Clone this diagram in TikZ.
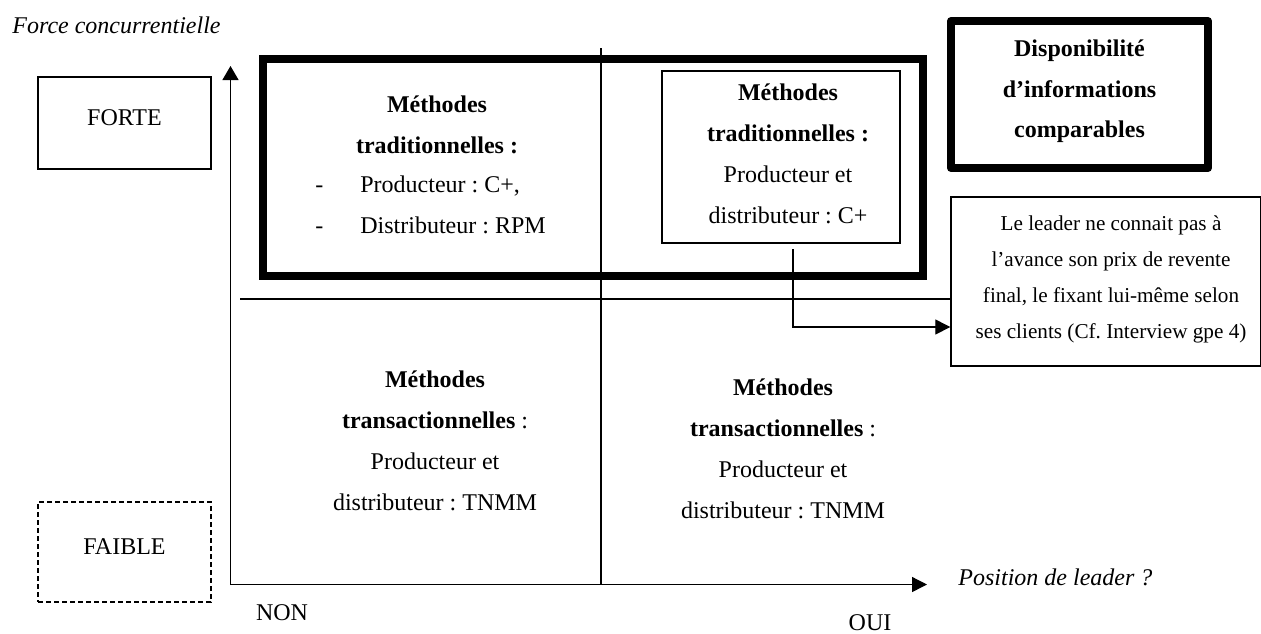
\documentclass[tikz,border=0pt]{standalone}
\usepackage{fontspec}
\setmainfont{Liberation Serif}
\usetikzlibrary{arrows.meta}
\frenchspacing
\begin{document}
\begin{tikzpicture}[x=0.5pt,y=-0.5pt,
  rule/.style={line width=0.65pt},
  axis/.style={line width=0.65pt},
  heavybox/.style={draw, line width=4pt, inner sep=0pt},
  framebox/.style={draw, line width=1pt, inner sep=0pt},
  plainbox/.style={draw, line width=0.7pt, inner sep=0pt},
  txt/.style={align=center, inner sep=0pt, font=\fontsize{12}{20.5}\selectfont},
  notetxt/.style={align=center, inner sep=0pt, font=\fontsize{10.6}{18}\selectfont},
  lbl/.style={inner sep=0pt, font=\fontsize{12}{14}\selectfont},
  tip/.style={-{Triangle[length=7.5pt,width=7.5pt]}}
]
\useasboundingbox (0,0) rectangle (1261,633);

% axes
\draw[axis,-{Triangle[length=7pt,width=8pt]}] (230.5,585) -- (230.5,66);
\draw[axis,tip] (230,584.5) -- (927,584.5);

% quadrant divider
\draw[rule] (601,48) -- (601,584.5);

% framed areas
\node[heavybox, minimum width=330pt, minimum height=108.5pt] (trad) at (592.5,167.5) {};
\node[framebox, minimum width=119pt, minimum height=86pt] (cplus) at (781,157) {};
\node[heavybox, line join=round, minimum width=128.5pt, minimum height=73.5pt] (dispo) at (1079.5,94.5) {};
\node[plainbox, minimum width=154.75pt, minimum height=84.5pt] (note) at (1105.75,281.5) {};
\node[plainbox, minimum width=86.5pt, minimum height=46pt, lbl, text depth=5.4pt] (forte) at (124.5,123) {FORTE};
\node[plainbox, dash pattern=on 2.5pt off 1.5pt, minimum width=86.5pt, minimum height=50pt, lbl, text depth=5.9pt] (faible) at (124.5,552) {FAIBLE};

\draw[rule] (240,299) -- (note.west |- 0,299);

% quadrant texts
\node[txt] (tradtitle) at (437,124.3) {\textbf{Méthodes}\strut\\\textbf{traditionnelles :}\strut};
\node[txt, align=left, anchor=west] (tradlist) at (315,204.8)
  {\makebox[22.5pt][l]{-}Producteur : C+,\strut\\\makebox[22.5pt][l]{-}Distributeur : RPM\strut};
\node[txt] (cplustext) at (788,153.3) {\textbf{Méthodes}\strut\\\textbf{traditionnelles :}\strut\\Producteur et\strut\\distributeur : C+\strut};
\node[txt] (transleft) at (435,440.3) {\textbf{Méthodes}\strut\\\textbf{transactionnelles} :\strut\\Producteur et\strut\\distributeur : TNMM\strut};
\node[txt] (transright) at (783,448.3) {\textbf{Méthodes}\strut\\\textbf{transactionnelles} :\strut\\Producteur et\strut\\distributeur : TNMM\strut};
\node[txt, font=\fontsize{12}{20.25}\selectfont\bfseries] (dispotext) at (1079.5,89.3) {Disponibilité\strut\\d’informations\strut\\comparables\strut};
\node[notetxt] (notetext) at (1111,276.8) {Le leader ne connait pas à\strut\\l’avance son prix de revente\strut\\final, le fixant lui-même selon\strut\\ses clients (Cf. Interview gpe 4)\strut};

% link from the C+ frame to the note
\coordinate (cpfoot) at (793,249);
\draw[rule,tip] (cpfoot) |- (note.west |- 0,327);

% axis labels
\node[lbl, anchor=base west, font=\fontsize{12}{14}\selectfont\itshape] (yname) at (12,33) {Force concurrentielle};
\node[lbl, anchor=base west, font=\fontsize{12}{14}\selectfont\itshape] (xname) at (958,585) {Position de leader ?};
\node[lbl, anchor=base] (non) at (282,620) {NON};
\node[lbl, anchor=base] (oui) at (870,630) {OUI};
\end{tikzpicture}
\end{document}
